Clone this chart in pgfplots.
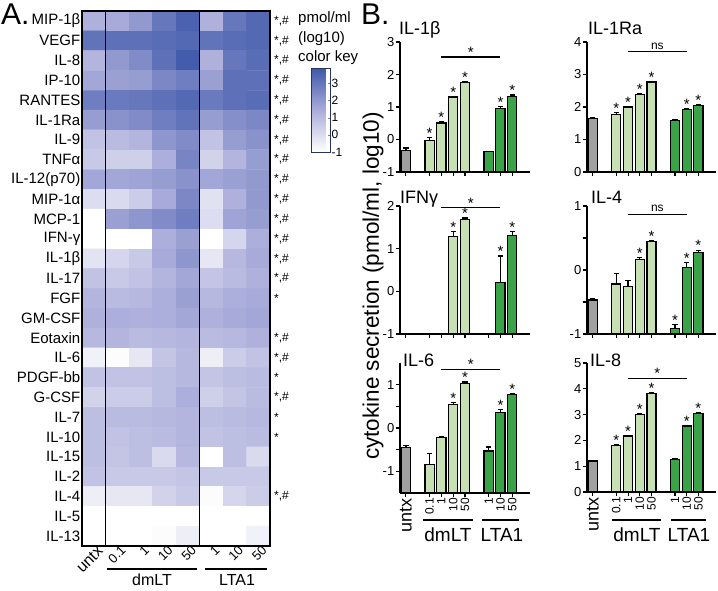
\documentclass[border=0pt]{standalone}
\usepackage{fontspec}
\setmainfont{Liberation Sans}
\usepackage{pgfplots}
\pgfplotsset{compat=1.18}

\definecolor{cgray}{RGB}{160,160,160}
\definecolor{clight}{RGB}{198,224,180}
\definecolor{cdark}{RGB}{58,163,72}
\newcommand{\fs}[1]{\fontsize{#1}{#1}\selectfont}

\pgfplotsset{
  barax/.style={
    scale only axis, width=130pt,
    xmin=-0.5, xmax=10.5, enlargelimits=false,
    axis x line*=bottom, axis y line*=left,
    axis line style={line width=1.3pt,-},
    tick style={line width=1.1pt, black},
    major tick length=4pt, tick align=outside,
    xtick={0,2,3,4,5,7,8,9}, xticklabels={},
    yticklabel style={font=\fs{13}, inner sep=1.5pt},
    clip=false,
  },
  barsty/.style={ybar, bar width=0.78, bar shift=0pt, draw=black, line width=1.2pt,
    error bars/y dir=plus, error bars/y explicit,
    error bars/error bar style={line width=1.2pt, black},
    error bars/error mark options={rotate=90, mark size=2.6pt, line width=1.2pt, black}},
  starsty/.style={only marks, mark=*, mark size=0.01pt, mark options={draw=none,fill=none},
    point meta=y, nodes near coords={*},
    nodes near coords style={anchor=south, inner sep=0pt, yshift=-1pt, font=\fs{15}, text=black}},
  botlab/.style={
    xticklabels={{\fs{18}untx},0.1,1,10,50,1,10,50},
    xticklabel style={rotate=90, anchor=east, font=\fs{12}, inner sep=1pt},
  },
}

\begin{document}
\begin{tikzpicture}
\useasboundingbox (0,0) rectangle (718pt,-590pt);

% ---------------- Panel A: heatmap ----------------
\begin{axis}[
  at={(82pt,-11pt)}, anchor=north west,
  scale only axis, width=188pt, height=535pt,
  xmin=-0.5, xmax=7.5, ymin=-0.5, ymax=26.5, y dir=reverse,
  enlargelimits=false, axis on top,
  axis line style={line width=1.4pt},
  major tick length=0pt,
  ytick={0,...,26},
  yticklabels={MIP-1β,VEGF,IL-8,IP-10,RANTES,IL-1Ra,IL-9,TNFα,IL-12(p70),MIP-1α,MCP-1,IFN-γ,IL-1β,IL-17,FGF,GM-CSF,Eotaxin,IL-6,PDGF-bb,G-CSF,IL-7,IL-10,IL-15,IL-2,IL-4,IL-5,IL-13},
  yticklabel style={font=\fs{15}, inner sep=1.5pt},
  xtick={0,...,7},
  xticklabels={{\fs{16}untx},0.1,1,10,50,1,10,50},
  xticklabel style={rotate=45, anchor=north east, font=\fs{13}, inner sep=1pt, xshift=4pt},
  colormap={heat}{rgb255=(255,255,255) rgb255=(170,172,218) rgb255=(62,88,170)},
  point meta min=-1, point meta max=3.9,
  colorbar,
  colorbar style={at={(parent axis.north west)}, anchor=north west, xshift=221pt, yshift=-57pt,
     scale only axis, width=19pt, height=84pt,
     ytick={-1,0,1,2,3}, yticklabels={-1,0,1,2,3},
     ytick pos=right, yticklabel pos=right,
     yticklabel style={font=\fs{12}, inner sep=1pt},
     major tick length=3pt, tick align=inside,
     axis line style={line width=0.8pt, draw={rgb,255:red,40;green,50;blue,100}}},
]
\addplot[matrix plot*, mesh/cols=8, point meta=explicit] coordinates {
(0,0)[1.3] (1,0)[1.5] (2,0)[2.0] (3,0)[3.0] (4,0)[3.6] (5,0)[1.3] (6,0)[3.0] (7,0)[3.4]
(0,1)[3.1] (1,1)[3.2] (2,1)[3.2] (3,1)[3.3] (4,1)[3.4] (5,1)[3.1] (6,1)[3.3] (7,1)[3.4]
(0,2)[1.2] (1,2)[2.0] (2,2)[2.4] (3,2)[3.2] (4,2)[3.8] (5,2)[1.3] (6,2)[3.0] (7,2)[3.3]
(0,3)[1.6] (1,3)[1.8] (2,3)[1.9] (3,3)[2.5] (4,3)[2.8] (5,3)[1.8] (6,3)[3.2] (7,3)[3.2]
(0,4)[2.8] (1,4)[2.9] (2,4)[3.0] (3,4)[3.2] (4,4)[3.4] (5,4)[2.9] (6,4)[3.2] (7,4)[3.3]
(0,5)[1.9] (1,5)[2.2] (2,5)[2.4] (3,5)[2.8] (4,5)[3.1] (5,5)[1.9] (6,5)[2.3] (7,5)[2.5]
(0,6)[0.8] (1,6)[1.0] (2,6)[1.2] (3,6)[2.1] (4,6)[2.4] (5,6)[0.8] (6,6)[1.9] (7,6)[2.2]
(0,7)[0.6] (1,7)[0.4] (2,7)[0.4] (3,7)[1.4] (4,7)[2.6] (5,7)[0.3] (6,7)[1.2] (7,7)[1.9]
(0,8)[1.6] (1,8)[1.6] (2,8)[1.7] (3,8)[1.9] (4,8)[2.2] (5,8)[1.6] (6,8)[1.8] (7,8)[2.0]
(0,9)[0.0] (1,9)[0.1] (2,9)[0.5] (3,9)[1.5] (4,9)[2.5] (5,9)[-0.1] (6,9)[1.3] (7,9)[2.0]
(0,10)[-1.0] (1,10)[1.8] (2,10)[2.1] (3,10)[2.4] (4,10)[2.8] (5,10)[0.0] (6,10)[1.7] (7,10)[1.9]
(0,11)[-1.0] (1,11)[-1.0] (2,11)[-1.0] (3,11)[1.4] (4,11)[1.8] (5,11)[-1.0] (6,11)[0.2] (7,11)[1.4]
(0,12)[-0.2] (1,12)[0.2] (2,12)[0.6] (3,12)[1.5] (4,12)[2.1] (5,12)[-0.3] (6,12)[1.1] (7,12)[1.5]
(0,13)[0.8] (1,13)[0.6] (2,13)[0.8] (3,13)[1.2] (4,13)[1.6] (5,13)[0.7] (6,13)[1.0] (7,13)[1.3]
(0,14)[1.2] (1,14)[1.0] (2,14)[1.1] (3,14)[1.4] (4,14)[1.8] (5,14)[1.1] (6,14)[1.4] (7,14)[1.5]
(0,15)[1.3] (1,15)[1.4] (2,15)[1.3] (3,15)[1.4] (4,15)[1.6] (5,15)[1.3] (6,15)[1.5] (7,15)[1.6]
(0,16)[1.1] (1,16)[1.2] (2,16)[1.0] (3,16)[1.1] (4,16)[1.2] (5,16)[1.0] (6,16)[1.1] (7,16)[1.3]
(0,17)[-0.6] (1,17)[-0.9] (2,17)[-0.3] (3,17)[0.7] (4,17)[1.1] (5,17)[-0.5] (6,17)[0.5] (7,17)[0.8]
(0,18)[0.8] (1,18)[0.8] (2,18)[0.8] (3,18)[0.9] (4,18)[1.1] (5,18)[0.7] (6,18)[0.9] (7,18)[1.0]
(0,19)[0.3] (1,19)[0.5] (2,19)[0.5] (3,19)[0.9] (4,19)[1.4] (5,19)[0.4] (6,19)[0.7] (7,19)[1.0]
(0,20)[0.9] (1,20)[1.0] (2,20)[1.0] (3,20)[1.1] (4,20)[1.2] (5,20)[0.9] (6,20)[1.0] (7,20)[1.1]
(0,21)[0.9] (1,21)[0.8] (2,21)[0.9] (3,21)[1.0] (4,21)[1.2] (5,21)[0.8] (6,21)[0.9] (7,21)[1.0]
(0,22)[0.9] (1,22)[0.7] (2,22)[0.9] (3,22)[0.1] (4,22)[1.1] (5,22)[-1.0] (6,22)[0.9] (7,22)[0.1]
(0,23)[0.8] (1,23)[0.6] (2,23)[0.6] (3,23)[0.6] (4,23)[0.7] (5,23)[0.6] (6,23)[0.6] (7,23)[0.6]
(0,24)[-0.5] (1,24)[-0.3] (2,24)[-0.3] (3,24)[0.3] (4,24)[0.6] (5,24)[-0.9] (6,24)[0.2] (7,24)[0.5]
(0,25)[-1.0] (1,25)[-1.0] (2,25)[-1.0] (3,25)[-1.0] (4,25)[-1.0] (5,25)[-1.0] (6,25)[-1.0] (7,25)[-1.0]
(0,26)[-1.0] (1,26)[-1.0] (2,26)[-1.0] (3,26)[-0.9] (4,26)[-0.5] (5,26)[-1.0] (6,26)[-1.0] (7,26)[-0.6]
};
\draw[line width=1.4pt] (axis cs:0.5,-0.5) -- (axis cs:0.5,26.5);
\draw[line width=1.4pt] (axis cs:4.5,-0.5) -- (axis cs:4.5,26.5);
\end{axis}

% significance marks to the right of the heatmap
\begin{axis}[
  at={(82pt,-11pt)}, anchor=north west,
  scale only axis, width=188pt, height=535pt,
  xmin=-0.5, xmax=7.5, ymin=-0.5, ymax=26.5, y dir=reverse,
  axis line style={draw=none}, major tick length=0pt, xtick=\empty,
  ytick={0,...,26}, yticklabel pos=right,
  yticklabels={{*,\#},{*,\#},{*,\#},{*,\#},{*,\#},{*,\#},{*,\#},{*,\#},{*,\#},{*,\#},{*,\#},{*,\#},{*,\#},{*,\#},{*},{},{*,\#},{*,\#},{*},{*,\#},{*},{*},{},{},{*,\#},{},{}},
  yticklabel style={font=\fs{12}, inner sep=1pt, xshift=3pt},
]
\end{axis}

\node[anchor=base west, font=\fs{30}, inner sep=0] at (1pt,-24pt) {A.};
\node[anchor=base west, font=\fs{30}, inner sep=0] at (361pt,-24pt) {B.};
\node[anchor=base west, font=\fs{15}, inner sep=0] at (298pt,-22pt) {pmol/ml};
\node[anchor=base west, font=\fs{15}, inner sep=0] at (298pt,-42.5pt) {(log10)};
\node[anchor=base west, font=\fs{15}, inner sep=0] at (298pt,-61pt) {color key};

\draw[line width=1.3pt] (107pt,-569pt) -- (197pt,-569pt);
\draw[line width=1.3pt] (205pt,-569pt) -- (267pt,-569pt);
\node[anchor=base, font=\fs{16}, inner sep=0] at (152pt,-585pt) {dmLT};
\node[anchor=base, font=\fs{16}, inner sep=0] at (237pt,-585pt) {LTA1};

% ---------------- Panel B ----------------
% IL-1beta (values shifted by +1 so bars rise from -1)
\begin{axis}[barax, at={(400pt,-42pt)}, anchor=north west, height=130pt,
  ymin=0, ymax=4, ytick={0,1,2,3,4}, yticklabels={-1,0,1,2,3}]
\addplot[barsty, fill=cgray] table[x=x, y expr=\thisrow{v}+1, y error=e] {
x v e
0 -0.33 0.07
};
\addplot[barsty, fill=clight] table[x=x, y expr=\thisrow{v}+1, y error=e] {
x v e
2 -0.02 0.07
3 0.51 0.03
4 1.31 0.02
5 1.75 0.02
};
\addplot[barsty, fill=cdark] table[x=x, y expr=\thisrow{v}+1, y error=e] {
x v e
7 -0.38 0.02
8 0.95 0.07
9 1.33 0.04
};
\addplot[starsty] table[x=x, y expr=\thisrow{v}+\thisrow{e}+1] {
x v e
2 -0.02 0.07
3 0.51 0.03
4 1.31 0.02
5 1.75 0.02
8 0.95 0.07
9 1.33 0.04
};
\draw[line width=1.1pt] (axis cs:3,3.54) -- (axis cs:8,3.54) node[midway, above, inner sep=0pt, yshift=-1pt, font=\fs{15}] {*};
\end{axis}

% IL-1Ra
\begin{axis}[barax, at={(587pt,-42pt)}, anchor=north west, width=129pt, height=130pt,
  ymin=0, ymax=4, ytick={0,1,2,3,4}, yticklabels={0,1,2,3,4}]
\addplot[barsty, fill=cgray] table[x=x, y=v, y error=e] {
x v e
0 1.64 0.03
};
\addplot[barsty, fill=clight] table[x=x, y=v, y error=e] {
x v e
2 1.77 0.06
3 2.00 0.02
4 2.38 0.02
5 2.77 0.02
};
\addplot[barsty, fill=cdark] table[x=x, y=v, y error=e] {
x v e
7 1.59 0.02
8 1.92 0.02
9 2.05 0.02
};
\addplot[starsty] table[x=x, y expr=\thisrow{v}+\thisrow{e}] {
x v e
2 1.77 0.06
3 2.00 0.02
4 2.38 0.02
5 2.77 0.02
8 1.92 0.02
9 2.05 0.02
};
\draw[line width=1.1pt] (axis cs:3,3.70) -- (axis cs:8,3.70) node[midway, above, inner sep=2pt, font=\fs{12}] {ns};
\end{axis}

% IFN-gamma (shift +1)
\begin{axis}[barax, at={(400pt,-206pt)}, anchor=north west, height=128pt,
  ymin=0, ymax=3, ytick={0,1,2,3}, yticklabels={-1,0,1,2}]
\addplot[barsty, fill=clight] table[x=x, y expr=\thisrow{v}+1, y error=e] {
x v e
4 1.28 0.12
5 1.69 0.03
};
\addplot[barsty, fill=cdark] table[x=x, y expr=\thisrow{v}+1, y error=e] {
x v e
8 0.21 0.62
9 1.31 0.09
};
\addplot[starsty] table[x=x, y expr=\thisrow{v}+\thisrow{e}+1] {
x v e
4 1.28 0.12
5 1.69 0.03
8 0.21 0.62
9 1.31 0.09
};
\draw[line width=1.1pt] (axis cs:3,2.96) -- (axis cs:8,2.96) node[midway, above, inner sep=0pt, yshift=-1pt, font=\fs{15}] {*};
\end{axis}

% IL-4 (shift +1)
\begin{axis}[barax, at={(587pt,-206pt)}, anchor=north west, width=129pt, height=128pt,
  ymin=0, ymax=2, ytick={0,0.5,1,1.5,2}, yticklabels={-1,,0,,1}]
\addplot[barsty, fill=cgray] table[x=x, y expr=\thisrow{v}+1, y error=e] {
x v e
0 -0.47 0.03
};
\addplot[barsty, fill=clight] table[x=x, y expr=\thisrow{v}+1, y error=e] {
x v e
2 -0.22 0.16
3 -0.26 0.10
4 0.16 0.03
5 0.44 0.02
};
\addplot[barsty, fill=cdark] table[x=x, y expr=\thisrow{v}+1, y error=e] {
x v e
7 -0.91 0.06
8 0.04 0.08
9 0.27 0.04
};
\addplot[starsty] table[x=x, y expr=\thisrow{v}+\thisrow{e}+1] {
x v e
4 0.16 0.03
5 0.44 0.02
7 -0.91 0.06
8 0.04 0.08
9 0.27 0.04
};
\draw[line width=1.1pt] (axis cs:3,1.87) -- (axis cs:8,1.87) node[midway, above, inner sep=2pt, font=\fs{12}] {ns};
\end{axis}

% IL-6 (shift +1.5)
\begin{axis}[barax, botlab, at={(400pt,-363pt)}, anchor=north west, height=130pt,
  ymin=0, ymax=3, ytick={0.5,1,1.5,2,2.5}, yticklabels={-1,,0,,1}]
\addplot[barsty, fill=cgray] table[x=x, y expr=\thisrow{v}+1.5, y error=e] {
x v e
0 -0.45 0.04
};
\addplot[barsty, fill=clight] table[x=x, y expr=\thisrow{v}+1.5, y error=e] {
x v e
2 -0.84 0.25
3 -0.22 0.03
4 0.55 0.03
5 1.03 0.03
};
\addplot[barsty, fill=cdark] table[x=x, y expr=\thisrow{v}+1.5, y error=e] {
x v e
7 -0.53 0.09
8 0.35 0.08
9 0.78 0.02
};
\addplot[starsty] table[x=x, y expr=\thisrow{v}+\thisrow{e}+1.5] {
x v e
4 0.55 0.03
5 1.03 0.03
8 0.35 0.08
9 0.78 0.02
};
\draw[line width=1.1pt] (axis cs:3,2.86) -- (axis cs:8,2.86) node[midway, above, inner sep=0pt, yshift=-1pt, font=\fs{15}] {*};
\end{axis}

% IL-8
\begin{axis}[barax, botlab, at={(587pt,-363pt)}, anchor=north west, width=129pt, height=129pt,
  ymin=0, ymax=5, ytick={0,1,2,3,4,5}, yticklabels={0,1,2,3,4,5}]
\addplot[barsty, fill=cgray] table[x=x, y=v, y error=e] {
x v e
0 1.20 0.01
};
\addplot[barsty, fill=clight] table[x=x, y=v, y error=e] {
x v e
2 1.80 0.04
3 2.17 0.03
4 3.00 0.02
5 3.83 0.03
};
\addplot[barsty, fill=cdark] table[x=x, y=v, y error=e] {
x v e
7 1.26 0.02
8 2.56 0.02
9 3.04 0.02
};
\addplot[starsty] table[x=x, y expr=\thisrow{v}+\thisrow{e}] {
x v e
2 1.80 0.04
3 2.17 0.03
4 3.00 0.02
5 3.83 0.03
8 2.56 0.02
9 3.04 0.02
};
\draw[line width=1.1pt] (axis cs:3,4.4) -- (axis cs:8,4.4) node[midway, above, inner sep=0pt, yshift=-1pt, font=\fs{15}] {*};
\end{axis}

\node[anchor=base west, font=\fs{18}, inner sep=0] at (399pt,-34pt) {IL-1β};
\node[anchor=base west, font=\fs{18}, inner sep=0] at (588pt,-34pt) {IL-1Ra};
\node[anchor=base west, font=\fs{18}, inner sep=0] at (400pt,-203pt) {IFNγ};
\node[anchor=base west, font=\fs{18}, inner sep=0] at (591pt,-203pt) {IL-4};
\node[anchor=base west, font=\fs{18}, inner sep=0] at (403pt,-366pt) {IL-6};
\node[anchor=base west, font=\fs{18}, inner sep=0] at (590pt,-366pt) {IL-8};

\node[rotate=90, font=\fs{22.5}, inner sep=0] at (373pt,-286pt) {cytokine secretion (pmol/ml, log10)};

\draw[line width=1.3pt] (423pt,-520pt) -- (473pt,-520pt);
\draw[line width=1.3pt] (482pt,-520pt) -- (519pt,-520pt);
\draw[line width=1.3pt] (612pt,-520pt) -- (661pt,-520pt);
\draw[line width=1.3pt] (671pt,-520pt) -- (706pt,-520pt);
\node[anchor=base, font=\fs{19}, inner sep=0] at (448pt,-541pt) {dmLT};
\node[anchor=base, font=\fs{19}, inner sep=0] at (502pt,-541pt) {LTA1};
\node[anchor=base, font=\fs{19}, inner sep=0] at (637pt,-541pt) {dmLT};
\node[anchor=base, font=\fs{19}, inner sep=0] at (689pt,-541pt) {LTA1};
\end{tikzpicture}
\end{document}
